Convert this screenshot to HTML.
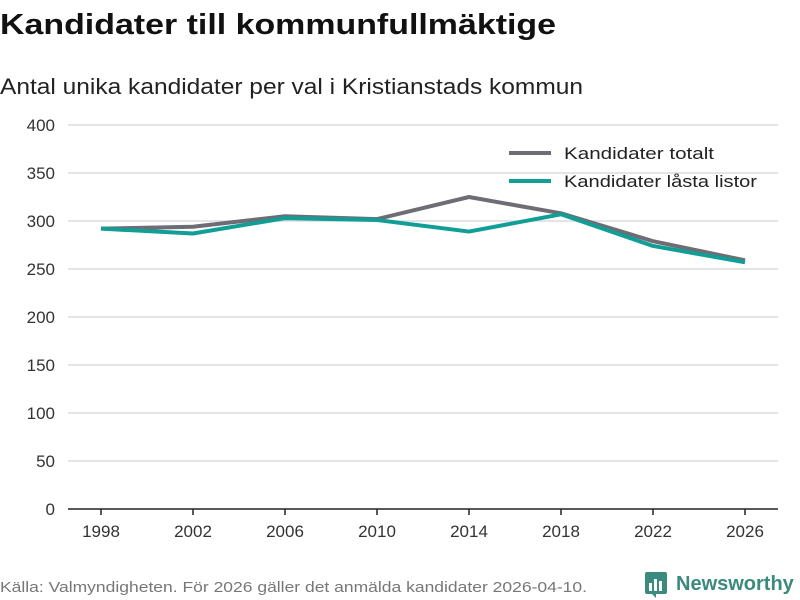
<!DOCTYPE html>
<html><head><meta charset="utf-8"><style>
body{margin:0;background:#fff}
svg{display:block;font-family:"Liberation Sans","DejaVu Sans",sans-serif}
</style></head><body>
<svg id="chart" width="800" height="600" viewBox="0 0 800 600">
<text x="0" y="34" font-size="29" font-weight="bold" fill="#111" textLength="556" lengthAdjust="spacingAndGlyphs">Kandidater till kommunfullmäktige</text>
<text x="0" y="94" font-size="22" fill="#222" textLength="583" lengthAdjust="spacingAndGlyphs">Antal unika kandidater per val i Kristianstads kommun</text>
<g id="grid"></g><g id="axes"></g><g id="lines"></g>
<g>
<g><line x1="509" y1="153" x2="551" y2="153" stroke="#6e6c74" stroke-width="4"/><text x="564" y="159" font-size="17" fill="#222" textLength="150" lengthAdjust="spacingAndGlyphs">Kandidater totalt</text></g>
<g><line x1="509" y1="181" x2="551" y2="181" stroke="#109e96" stroke-width="4"/><text x="564" y="187" font-size="17" fill="#222" textLength="193" lengthAdjust="spacingAndGlyphs">Kandidater låsta listor</text></g>
</g>
<text x="0" y="592" font-size="15" fill="#777" textLength="587" lengthAdjust="spacingAndGlyphs">Källa: Valmyndigheten. För 2026 gäller det anmälda kandidater 2026-04-10.</text>
<g>
<rect x="645" y="572" width="22" height="22" rx="2" fill="#3b8a7e"/>
<path d="M650 592 L656 598 L656 592 Z" fill="#3b8a7e"/>
<rect x="649" y="583" width="3" height="8" fill="#fff"/><rect x="654" y="579" width="3" height="12" fill="#fff"/><rect x="659" y="581" width="3" height="10" fill="#fff"/>
<text x="676" y="590" font-size="20" font-weight="bold" fill="#3b8a7e">Newsworthy</text>
</g>
</svg>
<script>
const years=[1998,2002,2006,2010,2014,2018,2022,2026];
const totalt=[292,294,305,302,325,308,279,259];
const lasta=[292,287,303,301,289,307,274,257];
const yTicks=[0,50,100,150,200,250,300,350,400];
const NS='http://www.w3.org/2000/svg';
const x=v=>101+(v-1998)*(644/28);
const y=v=>509-v*0.96;
function mk(t,a,p){const e=document.createElementNS(NS,t);for(const k in a)e.setAttribute(k,a[k]);p.appendChild(e);return e;}
const grid=document.getElementById('grid'),axes=document.getElementById('axes'),lines=document.getElementById('lines');
yTicks.forEach(t=>{
  if(t>0){const g=mk('line',{x1:68,x2:778,y1:y(t),y2:y(t),stroke:'#dcdcdc','stroke-width':1.5},grid);
  
  }
  const l=mk('text',{x:55,y:y(t)+6,'font-size':17,fill:'#333','text-anchor':'end'},axes);l.textContent=t;
  
  
});
const ax=mk('line',{x1:68,x2:778,y1:509,y2:509,stroke:'#222','stroke-width':1.5},axes);


years.forEach(yr=>{
  mk('line',{x1:x(yr),x2:x(yr),y1:509,y2:515,stroke:'#222','stroke-width':1.5},axes);
  const l=mk('text',{x:x(yr),y:537,'font-size':17,fill:'#333','text-anchor':'middle'},axes);l.textContent=yr;
  
  
});
function series(vals,color,name){
  const p=mk('polyline',{points:vals.map((v,i)=>x(years[i])+','+y(v)).join(' '),fill:'none',stroke:color,'stroke-width':4,'stroke-linejoin':'round'},lines);
  
  
}
series(totalt,'#6e6c74','line-kandidater-totalt');
series(lasta,'#109e96','line-kandidater-lasta-listor');
</script>
</body></html>
